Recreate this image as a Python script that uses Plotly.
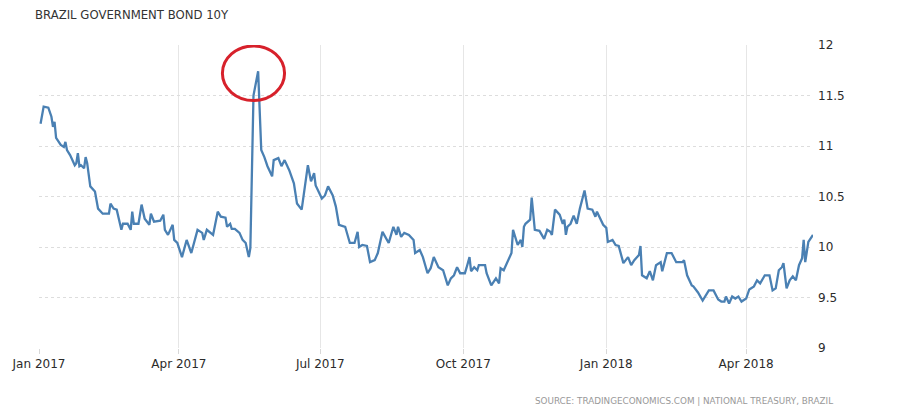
import plotly.graph_objects as go

title_text = "BRAZIL GOVERNMENT BOND 10Y"
source_text = "SOURCE: TRADINGECONOMICS.COM | NATIONAL TREASURY, BRAZIL"

dates = [
    "2017-01-02", "2017-01-04", "2017-01-07", "2017-01-09", "2017-01-10", "2017-01-11", "2017-01-12", "2017-01-15",
    "2017-01-17", "2017-01-18", "2017-01-19", "2017-01-21", "2017-01-24", "2017-01-25", "2017-01-26", "2017-01-27",
    "2017-01-28", "2017-01-30", "2017-01-31", "2017-02-01", "2017-02-03", "2017-02-06", "2017-02-08", "2017-02-11",
    "2017-02-15", "2017-02-16", "2017-02-18", "2017-02-20", "2017-02-23", "2017-02-24", "2017-02-27", "2017-03-01",
    "2017-03-02", "2017-03-03", "2017-03-06", "2017-03-08", "2017-03-10", "2017-03-13", "2017-03-14", "2017-03-16",
    "2017-03-20", "2017-03-22", "2017-03-23", "2017-03-25", "2017-03-28", "2017-03-29", "2017-03-31", "2017-04-03",
    "2017-04-06", "2017-04-09", "2017-04-13", "2017-04-16", "2017-04-17", "2017-04-19", "2017-04-23", "2017-04-26",
    "2017-04-28", "2017-05-01", "2017-05-02", "2017-05-04", "2017-05-05", "2017-05-07", "2017-05-10", "2017-05-12",
    "2017-05-14", "2017-05-16", "2017-05-17", "2017-05-19", "2017-05-22", "2017-05-24", "2017-05-26", "2017-05-28",
    "2017-05-31", "2017-06-01", "2017-06-04", "2017-06-06", "2017-06-08", "2017-06-11", "2017-06-14", "2017-06-16",
    "2017-06-19", "2017-06-23", "2017-06-25", "2017-06-27", "2017-06-28", "2017-07-02", "2017-07-04", "2017-07-06",
    "2017-07-09", "2017-07-11", "2017-07-13", "2017-07-17", "2017-07-20", "2017-07-23", "2017-07-25", "2017-07-26",
    "2017-07-28", "2017-07-31", "2017-08-02", "2017-08-05", "2017-08-07", "2017-08-10", "2017-08-14", "2017-08-17",
    "2017-08-19", "2017-08-20", "2017-08-22", "2017-08-24", "2017-08-27", "2017-08-30", "2017-08-31", "2017-09-03",
    "2017-09-05", "2017-09-08", "2017-09-10", "2017-09-12", "2017-09-15", "2017-09-18", "2017-09-21", "2017-09-23",
    "2017-09-25", "2017-09-27", "2017-09-29", "2017-10-02", "2017-10-03", "2017-10-05", "2017-10-06", "2017-10-08",
    "2017-10-10", "2017-10-11", "2017-10-15", "2017-10-16", "2017-10-19", "2017-10-22", "2017-10-24", "2017-10-25",
    "2017-10-27", "2017-11-01", "2017-11-02", "2017-11-05", "2017-11-07", "2017-11-08", "2017-11-09", "2017-11-10",
    "2017-11-13", "2017-11-14", "2017-11-16", "2017-11-19", "2017-11-22", "2017-11-24", "2017-11-26", "2017-11-27",
    "2017-11-29", "2017-12-02", "2017-12-04", "2017-12-05", "2017-12-06", "2017-12-07", "2017-12-09", "2017-12-11",
    "2017-12-13", "2017-12-15", "2017-12-18", "2017-12-20", "2017-12-23", "2017-12-25", "2017-12-26", "2017-12-28",
    "2017-12-30", "2018-01-01", "2018-01-02", "2018-01-05", "2018-01-07", "2018-01-09", "2018-01-12", "2018-01-15",
    "2018-01-17", "2018-01-19", "2018-01-22", "2018-01-23", "2018-01-24", "2018-01-27", "2018-01-29", "2018-01-31",
    "2018-02-02", "2018-02-05", "2018-02-06", "2018-02-09", "2018-02-12", "2018-02-15", "2018-02-19", "2018-02-20",
    "2018-02-22", "2018-02-25", "2018-02-26", "2018-03-01", "2018-03-04", "2018-03-08", "2018-03-11", "2018-03-14",
    "2018-03-16", "2018-03-18", "2018-03-19", "2018-03-21", "2018-03-23", "2018-03-25", "2018-03-27", "2018-03-29",
    "2018-04-01", "2018-04-03", "2018-04-06", "2018-04-08", "2018-04-10", "2018-04-13", "2018-04-16", "2018-04-18",
    "2018-04-20", "2018-04-22", "2018-04-24", "2018-04-25", "2018-04-27", "2018-04-29", "2018-05-01", "2018-05-03",
    "2018-05-05", "2018-05-07", "2018-05-08", "2018-05-09", "2018-05-11", "2018-05-14",
]

yields = [
    11.22, 11.39, 11.38, 11.29, 11.19, 11.24, 11.08, 11.01,
    10.99, 11.04, 10.96, 10.91, 10.81, 10.83, 10.93, 10.80,
    10.81, 10.78, 10.89, 10.83, 10.60, 10.55, 10.38, 10.33,
    10.33, 10.43, 10.38, 10.37, 10.17, 10.23, 10.23, 10.17,
    10.35, 10.23, 10.23, 10.42, 10.28, 10.22, 10.33, 10.25,
    10.26, 10.32, 10.17, 10.12, 10.22, 10.07, 10.04, 9.90,
    10.07, 9.94, 10.17, 10.14, 10.07, 10.17, 10.12, 10.35,
    10.30, 10.29, 10.20, 10.23, 10.18, 10.18, 10.14, 10.07,
    10.04, 9.90, 9.99, 11.50, 11.74, 10.96, 10.89, 10.80,
    10.70, 10.86, 10.88, 10.80, 10.86, 10.76, 10.63, 10.43,
    10.37, 10.81, 10.65, 10.73, 10.61, 10.48, 10.51, 10.60,
    10.51, 10.40, 10.22, 10.20, 10.04, 10.04, 10.15, 10.00,
    10.02, 10.01, 9.85, 9.87, 9.94, 10.15, 10.04, 10.20,
    10.12, 10.20, 10.10, 10.14, 10.12, 10.07, 9.94, 9.97,
    9.90, 9.74, 9.79, 9.90, 9.80, 9.77, 9.62, 9.69,
    9.72, 9.80, 9.74, 9.74, 9.79, 9.90, 9.76, 9.80,
    9.77, 9.82, 9.82, 9.74, 9.62, 9.69, 9.64, 9.79,
    9.77, 9.94, 10.17, 10.02, 10.07, 10.00, 10.20, 10.23,
    10.27, 10.49, 10.17, 10.16, 10.08, 10.17, 10.15, 10.12,
    10.37, 10.32, 10.23, 10.27, 10.12, 10.20, 10.23, 10.31,
    10.23, 10.38, 10.56, 10.38, 10.37, 10.30, 10.35, 10.28,
    10.22, 10.19, 10.05, 10.07, 10.02, 10.01, 9.84, 9.90,
    9.82, 9.87, 9.92, 10.01, 9.72, 9.69, 9.76, 9.67,
    9.82, 9.85, 9.76, 9.94, 9.94, 9.85, 9.85, 9.87,
    9.72, 9.62, 9.61, 9.55, 9.47, 9.57, 9.57, 9.48,
    9.46, 9.46, 9.51, 9.44, 9.51, 9.49, 9.51, 9.46,
    9.49, 9.58, 9.61, 9.67, 9.64, 9.72, 9.72, 9.57,
    9.59, 9.77, 9.80, 9.84, 9.59, 9.67, 9.71, 9.67,
    9.82, 9.89, 10.07, 9.85, 10.05, 10.12,
]

x_tick_vals = ["2017-01-01", "2017-04-01", "2017-07-01", "2017-10-01", "2018-01-01", "2018-04-01"]
x_tick_text = ["Jan 2017", "Apr 2017", "Jul 2017", "Oct 2017", "Jan 2018", "Apr 2018"]
y_tick_vals = [9, 9.5, 10, 10.5, 11, 11.5, 12]
y_tick_text = ["9", "9.5", "10", "10.5", "11", "11.5", "12"]

x_range = ["2017-01-01", "2018-05-14"]
y_range = [9, 12]

# highlight ellipse around the spike
circle_x = ["2017-04-29", "2017-06-08"]
circle_y = [11.45, 11.99]

fig = go.Figure()
fig.add_trace(go.Scatter(
    x=dates, y=yields, mode="lines",
    line=dict(color="#4a80b3", width=2.3),
    hoverinfo="x+y", showlegend=False,
))

fig.add_shape(
    type="circle", xref="x", yref="y",
    x0=circle_x[0], x1=circle_x[1], y0=circle_y[0], y1=circle_y[1],
    line=dict(color="#d7212b", width=3), layer="above",
)

fig.add_annotation(
    text=title_text, xref="paper", yref="paper", x=-0.008, y=1.099,
    xanchor="left", yanchor="middle", showarrow=False,
    font=dict(family="DejaVu Sans", size=11.7, color="#333333"),
)
fig.add_annotation(
    text=source_text, xref="paper", yref="paper", x=1.028, y=-0.175,
    xanchor="right", yanchor="middle", showarrow=False,
    font=dict(family="DejaVu Sans", size=8.8, color="#999999"),
)

fig.update_layout(
    width=904, height=414,
    margin=dict(l=31, r=99, t=37, b=74, autoexpand=False),
    paper_bgcolor="white", plot_bgcolor="white",
    font=dict(family="DejaVu Sans", size=12, color="#2b2b2b"),
    xaxis=dict(
        type="date", range=x_range, automargin=False,
        tickvals=x_tick_vals, ticktext=x_tick_text,
        showgrid=True, gridcolor="#e6e6e6", gridwidth=1,
        ticks="outside", ticklen=5, tickcolor="#d8d8d8",
        showline=False, zeroline=False,
        tickfont=dict(size=12, color="#2b2b2b"),
    ),
    yaxis=dict(
        range=y_range, side="right", automargin=False,
        tickvals=y_tick_vals, ticktext=y_tick_text,
        showgrid=True, gridcolor="#dddddd", gridwidth=1, griddash="dot",
        ticks="", showline=False, zeroline=False,
        ticklabelstandoff=4,
        tickfont=dict(size=12, color="#2b2b2b"),
    ),
)

fig.write_html("out.html")
